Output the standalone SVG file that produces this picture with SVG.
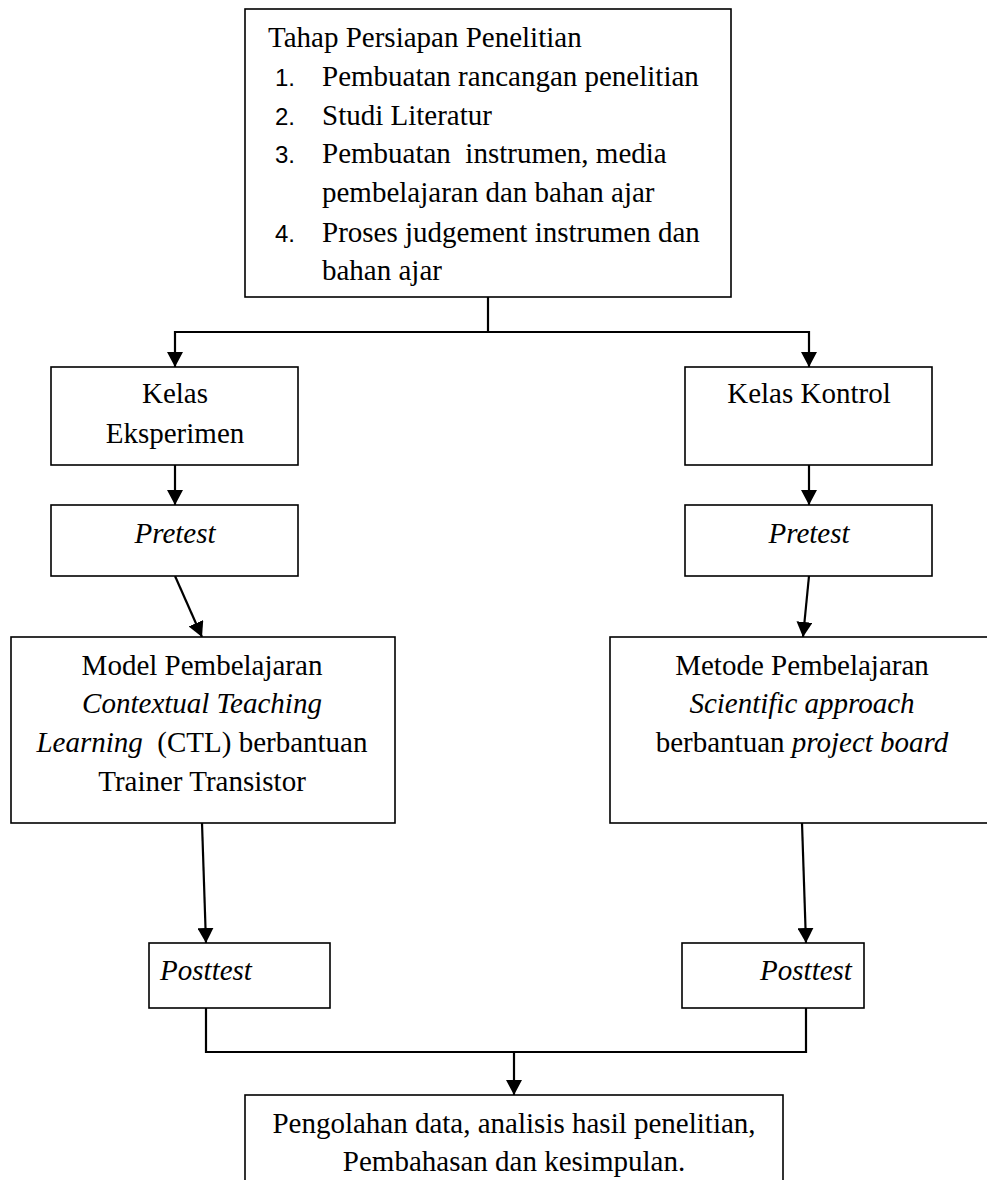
<svg xmlns="http://www.w3.org/2000/svg" width="987" height="1180" viewBox="0 0 987 1180">
<style>
.box{fill:#fff;stroke:#000;stroke-width:1.6}
.t{font-family:"Liberation Serif","Times New Roman",serif;font-size:29px;fill:#000}
.c{text-anchor:middle}
.i{font-style:italic}
.n{font-family:"Liberation Sans",Arial,sans-serif;font-size:24px;fill:#000}
.con{fill:none;stroke:#000;stroke-width:2.2}
</style>
<defs>
<marker id="ah" viewBox="0 0 15 16" refX="15" refY="8" markerWidth="15" markerHeight="16" markerUnits="userSpaceOnUse" orient="auto">
<path d="M0,0 L15,8 L0,16 z" fill="#000"/>
</marker>
</defs>
<rect width="987" height="1180" fill="#fff"/>
<g id="connectors">
<path class="con" d="M488,297 V332"/>
<path class="con" d="M489,332 H175 V367" marker-end="url(#ah)"/>
<path class="con" d="M487,332 H809 V367" marker-end="url(#ah)"/>
<path class="con" d="M175,465 V505" marker-end="url(#ah)"/>
<path class="con" d="M809,465 V505" marker-end="url(#ah)"/>
<path class="con" d="M175,576 L202,637" marker-end="url(#ah)"/>
<path class="con" d="M809,576 L803,637" marker-end="url(#ah)"/>
<path class="con" d="M202,823 L206,943" marker-end="url(#ah)"/>
<path class="con" d="M802,823 L806,943" marker-end="url(#ah)"/>
<path class="con" d="M206,1008 V1052 H806 V1008"/>
<path class="con" d="M514,1052 V1095" marker-end="url(#ah)"/>
</g>
<g id="persiapan">
<rect class="box" x="245" y="9" width="486" height="288"/>
<text class="t" x="268" y="47">Tahap Persiapan Penelitian</text>
<text class="n" x="275" y="86">1.</text>
<text class="t" x="322" y="86">Pembuatan rancangan penelitian</text>
<text class="n" x="275" y="125">2.</text>
<text class="t" x="322" y="125">Studi Literatur</text>
<text class="n" x="275" y="163">3.</text>
<text class="t" x="322" y="163" style="white-space:pre">Pembuatan  instrumen, media</text>
<text class="t" x="322" y="202">pembelajaran dan bahan ajar</text>
<text class="n" x="275" y="242">4.</text>
<text class="t" x="322" y="242">Proses judgement instrumen dan</text>
<text class="t" x="322" y="280">bahan ajar</text>
</g>
<g id="kelas-eksperimen">
<rect class="box" x="51" y="367" width="247" height="98"/>
<text class="t c" x="175" y="403">Kelas</text>
<text class="t c" x="175" y="443">Eksperimen</text>
</g>
<g id="kelas-kontrol">
<rect class="box" x="685" y="367" width="247" height="98"/>
<text class="t c" x="809" y="403">Kelas Kontrol</text>
</g>
<g id="pretest-eksperimen">
<rect class="box" x="51" y="505" width="247" height="71"/>
<text class="t c i" x="175" y="543">Pretest</text>
</g>
<g id="pretest-kontrol">
<rect class="box" x="685" y="505" width="247" height="71"/>
<text class="t c i" x="809" y="543">Pretest</text>
</g>
<g id="model-ctl">
<rect class="box" x="11" y="637" width="384" height="186"/>
<text class="t c" x="202" y="675">Model Pembelajaran</text>
<text class="t c i" x="202" y="713">Contextual Teaching</text>
<text class="t c" x="202" y="752" style="white-space:pre"><tspan class="i">Learning</tspan>  (CTL) berbantuan</text>
<text class="t c" x="202" y="791">Trainer Transistor</text>
</g>
<g id="metode-scientific">
<rect class="box" x="610" y="637" width="390" height="186"/>
<text class="t c" x="802" y="675">Metode Pembelajaran</text>
<text class="t c i" x="802" y="713">Scientific approach</text>
<text class="t c" x="802" y="752">berbantuan <tspan class="i">project board</tspan></text>
</g>
<g id="posttest-eksperimen">
<rect class="box" x="149" y="943" width="181" height="65"/>
<text class="t c i" x="206" y="980">Posttest</text>
</g>
<g id="posttest-kontrol">
<rect class="box" x="682" y="943" width="182" height="65"/>
<text class="t c i" x="806" y="980">Posttest</text>
</g>
<g id="pengolahan">
<rect class="box" x="245" y="1095" width="538" height="110"/>
<text class="t c" x="514" y="1133">Pengolahan data, analisis hasil penelitian,</text>
<text class="t c" x="514" y="1171">Pembahasan dan kesimpulan.</text>
</g>
</svg>
